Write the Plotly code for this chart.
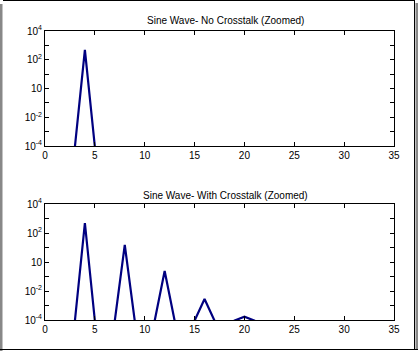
import plotly.graph_objects as go

# Data
x_bins = list(range(0, 36))
no_crosstalk = [1e-6, 1e-6, 1e-6, 9e-5, 480, 9e-5] + [1e-6] * 30
with_crosstalk = [1e-6, 1e-6, 1e-6, 9e-5, 490, 9e-5, 1e-6, 9e-5, 15, 9e-5,
                  1e-6, 9e-5, 0.24, 9e-5, 1e-6, 9e-5, 0.0028, 9e-5, 1e-6, 9e-5,
                  1.7e-4, 9e-5] + [1e-6] * 14
titles = ["Sine Wave- No Crosstalk (Zoomed)", "Sine Wave- With Crosstalk (Zoomed)"]
y_tickvals = [1e-4, 1e-3, 1e-2, 1e-1, 1, 10, 100, 1000, 1e4]
y_ticktext = ["10<sup>-4</sup>", "", "10<sup>-2</sup>", "", "10", "", "10<sup>2</sup>", "", "10<sup>4</sup>"]
x_tickvals = [0, 5, 10, 15, 20, 25, 30, 35]

W, H = 418, 351
L, R, T, B = 45, 24, 31, 31
pw, ph = W - L - R, H - T - B

def px(x):
    return (x - L) / pw

def py(y):
    return (H - B - y) / ph

fig = go.Figure()
fig.add_trace(go.Scatter(x=x_bins, y=no_crosstalk, mode="lines",
                         line=dict(color="#000080", width=2.2), xaxis="x", yaxis="y"))
fig.add_trace(go.Scatter(x=x_bins, y=with_crosstalk, mode="lines",
                         line=dict(color="#000080", width=2.2), xaxis="x2", yaxis="y2"))

font = dict(family="Liberation Sans, Arial", size=10, color="black")
axis_common = dict(showgrid=False, zeroline=False, showline=True, linecolor="black",
                   linewidth=1, mirror="ticks", ticks="inside", ticklen=4,
                   tickcolor="black", tickfont=font)

fig.update_layout(
    width=W, height=H,
    margin=dict(l=L, r=R, t=T, b=B),
    paper_bgcolor="white", plot_bgcolor="white",
    showlegend=False,
    xaxis=dict(domain=[0, 1], anchor="y", range=[0, 35], tickvals=x_tickvals, **axis_common),
    yaxis=dict(domain=[py(146), 1], anchor="x", type="log", range=[-4, 4],
               tickvals=y_tickvals, ticktext=y_ticktext, **axis_common),
    xaxis2=dict(domain=[0, 1], anchor="y2", range=[0, 35], tickvals=x_tickvals, **axis_common),
    yaxis2=dict(domain=[0, py(204)], anchor="x2", type="log", range=[-4, 4],
                tickvals=y_tickvals, ticktext=y_ticktext, **axis_common),
)

fig.add_annotation(text=titles[0], xref="paper", yref="paper", x=px(225), y=py(21),
                   xanchor="center", yanchor="middle", showarrow=False, font=font)
fig.add_annotation(text=titles[1], xref="paper", yref="paper", x=px(225), y=py(195),
                   xanchor="center", yanchor="middle", showarrow=False, font=font)

# Frame
shapes = [
    dict(type="rect", xref="paper", yref="paper", x0=px(0), x1=px(2.5), y0=py(4), y1=py(351),
         fillcolor="#888888", line=dict(width=0)),
    dict(type="rect", xref="paper", yref="paper", x0=px(415.5), x1=px(418), y0=py(3), y1=py(349),
         fillcolor="#888888", line=dict(width=0)),
    dict(type="line", xref="paper", yref="paper", x0=px(3), x1=px(415), y0=py(0.5), y1=py(0.5),
         line=dict(color="black", width=1)),
    dict(type="line", xref="paper", yref="paper", x0=px(414.5), x1=px(414.5), y0=py(0), y1=py(349),
         line=dict(color="black", width=1)),
    dict(type="line", xref="paper", yref="paper", x0=px(0), x1=px(418), y0=py(349.5), y1=py(349.5),
         line=dict(color="black", width=1)),
]
fig.update_layout(shapes=shapes)

fig.write_html("out.html")
